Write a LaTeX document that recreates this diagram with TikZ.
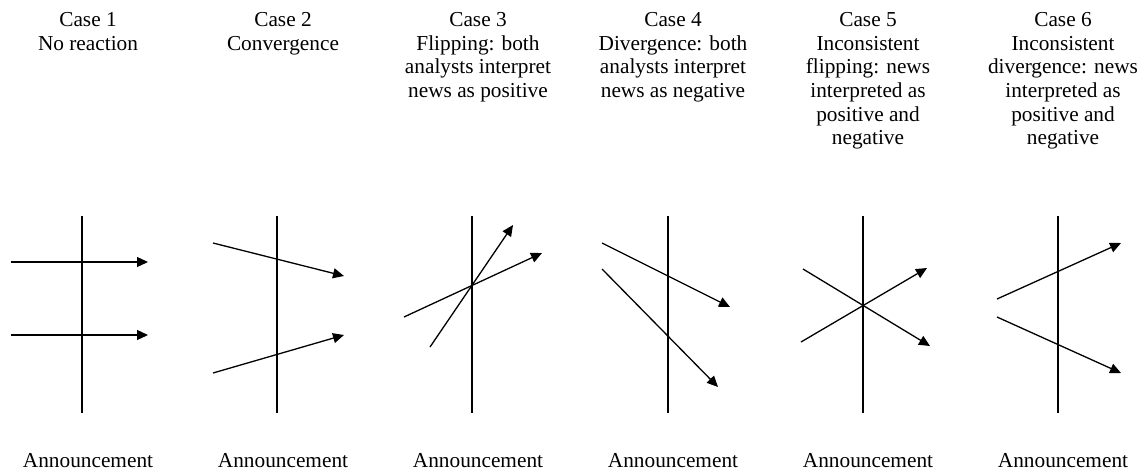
\documentclass[tikz,border=0pt]{standalone}
\usepackage{fontspec}
\setmainfont{Liberation Serif}
\usetikzlibrary{arrows.meta}
\begin{document}
\begin{tikzpicture}[x=1pt,y=-1pt,
  title/.style={anchor=north,align=center,inner sep=0pt,font=\fontsize{21.3}{23.7}\selectfont},
  ann/.style={anchor=base,inner sep=0pt,font=\fontsize{21.3}{23.7}\selectfont},
  axis/.style={line width=1.3pt},
  arr/.style={line width=1.3pt,-{Triangle[length=11pt,width=10pt]}}]
\useasboundingbox (0,0) rectangle (1147,472);
% titles
\node[title] (t1) at (88,12) {Case 1\\No reaction};
\node[title] (t2) at (283,12) {Case 2\\Convergence};
\node[title] (t3) at (478,12) {Case 3\\Flipping: both\\analysts interpret\\news as positive};
\node[title] (t4) at (673,12) {Case 4\\Divergence: both\\analysts interpret\\news as negative};
\node[title] (t5) at (868,12) {Case 5\\Inconsistent\\flipping: news\\interpreted as\\positive and\\negative};
\node[title] (t6) at (1063,12) {Case 6\\Inconsistent\\divergence: news\\interpreted as\\positive and\\negative};
% announcements
\node[ann] (a1) at (88,467) {Announcement};
\node[ann] (a2) at (283,467) {Announcement};
\node[ann] (a3) at (478,467) {Announcement};
\node[ann] (a4) at (673,467) {Announcement};
\node[ann] (a5) at (868,467) {Announcement};
\node[ann] (a6) at (1063,467) {Announcement};
% vertical axes
\foreach \i/\x in {1/82,2/277,3/472,4/668,5/863,6/1058}{
  \coordinate (v\i t) at (\x,216);
  \coordinate (v\i b) at (\x,413);
  \draw[axis] (v\i t) -- (v\i b);
}
% case 1
\coordinate (p1as) at (11,262); \coordinate (p1ae) at (148,262);
\coordinate (p1bs) at (11,335); \coordinate (p1be) at (148,335);
\draw[arr] (p1as) -- (p1ae);
\draw[arr] (p1bs) -- (p1be);
% case 2
\coordinate (p2as) at (213,243); \coordinate (p2ae) at (344,276);
\coordinate (p2bs) at (213,373); \coordinate (p2be) at (344,335);
\draw[arr] (p2as) -- (p2ae);
\draw[arr] (p2bs) -- (p2be);
% case 3
\coordinate (p3as) at (430,347); \coordinate (p3ae) at (513,225);
\coordinate (p3bs) at (404,317); \coordinate (p3be) at (542,253);
\draw[arr] (p3as) -- (p3ae);
\draw[arr] (p3bs) -- (p3be);
% case 4
\coordinate (p4as) at (602,243); \coordinate (p4ae) at (730,307);
\coordinate (p4bs) at (602,269); \coordinate (p4be) at (718,387);
\draw[arr] (p4as) -- (p4ae);
\draw[arr] (p4bs) -- (p4be);
% case 5
\coordinate (p5as) at (801,342); \coordinate (p5ae) at (927,268);
\coordinate (p5bs) at (803,269); \coordinate (p5be) at (930,346);
\draw[arr] (p5as) -- (p5ae);
\draw[arr] (p5bs) -- (p5be);
% case 6
\coordinate (p6as) at (997,299); \coordinate (p6ae) at (1121,243);
\coordinate (p6bs) at (997,317); \coordinate (p6be) at (1121,373);
\draw[arr] (p6as) -- (p6ae);
\draw[arr] (p6bs) -- (p6be);
\end{tikzpicture}
\end{document}
